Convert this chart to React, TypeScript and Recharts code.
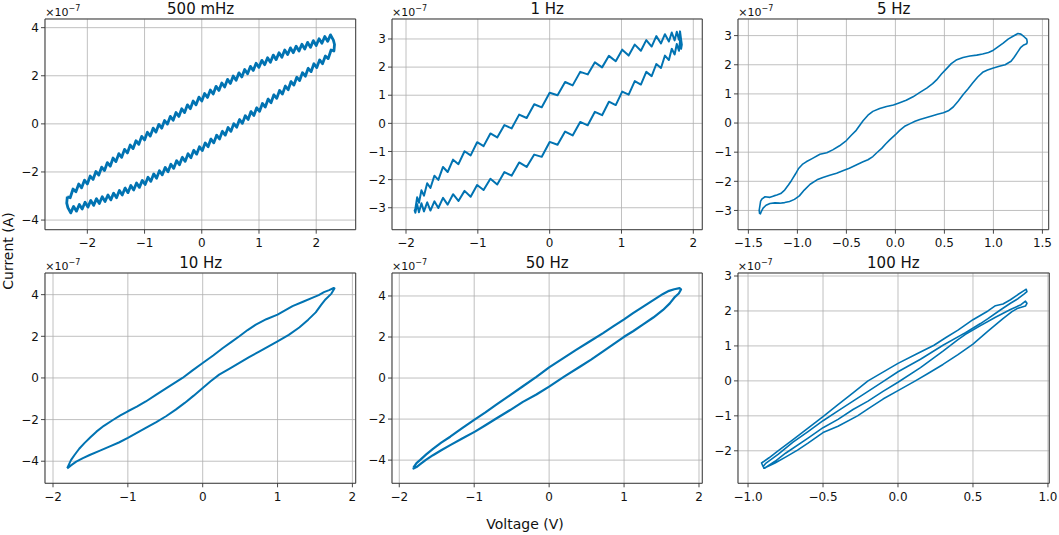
import React from 'react';
import { LineChart, Line, XAxis, YAxis, CartesianGrid, ReferenceArea } from 'recharts';

type Pt = [number, number];

// voltage (V), current (x1e-7 A)
const loop500mHz: Pt[] = [
  [-2.35, -3.03], [-2.3, -3.07], [-2.25, -2.71], [-2.2, -2.82], [-2.15, -2.5], [-2.1, -2.66],
  [-2.05, -2.34], [-2.0, -2.5], [-1.95, -2.17], [-1.9, -2.31], [-1.85, -1.98], [-1.8, -2.13],
  [-1.75, -1.8], [-1.7, -1.94], [-1.65, -1.61], [-1.6, -1.76], [-1.55, -1.42], [-1.5, -1.57],
  [-1.45, -1.24], [-1.4, -1.39], [-1.35, -1.06], [-1.3, -1.21], [-1.25, -0.88], [-1.2, -1.03],
  [-1.15, -0.7], [-1.1, -0.85], [-1.05, -0.52], [-1.0, -0.67], [-0.95, -0.35], [-0.9, -0.51],
  [-0.85, -0.18], [-0.8, -0.34], [-0.75, -0.02], [-0.7, -0.18], [-0.65, 0.14], [-0.6, -0.01],
  [-0.55, 0.31], [-0.5, 0.15], [-0.45, 0.47], [-0.4, 0.31], [-0.35, 0.63], [-0.3, 0.47],
  [-0.25, 0.79], [-0.2, 0.63], [-0.15, 0.95], [-0.1, 0.79], [-0.05, 1.11], [0.0, 0.95],
  [0.05, 1.26], [0.1, 1.1], [0.15, 1.41], [0.2, 1.24], [0.25, 1.56], [0.3, 1.39],
  [0.35, 1.7], [0.4, 1.53], [0.45, 1.85], [0.5, 1.68], [0.55, 1.99], [0.6, 1.81],
  [0.65, 2.12], [0.7, 1.95], [0.75, 2.26], [0.8, 2.08], [0.85, 2.39], [0.9, 2.22],
  [0.95, 2.52], [1.0, 2.35], [1.05, 2.64], [1.1, 2.46], [1.15, 2.75], [1.2, 2.56],
  [1.25, 2.86], [1.3, 2.67], [1.35, 2.96], [1.4, 2.77], [1.45, 3.07], [1.5, 2.88],
  [1.55, 3.16], [1.6, 2.96], [1.65, 3.23], [1.7, 3.03], [1.75, 3.31], [1.8, 3.11],
  [1.85, 3.39], [1.9, 3.18], [1.95, 3.46], [2.0, 3.26], [2.05, 3.54], [2.1, 3.35],
  [2.15, 3.63], [2.2, 3.43], [2.25, 3.7], [2.3, 3.48], [2.32, 3.3],
  [2.31, 3.03], [2.26, 3.07], [2.21, 2.71], [2.16, 2.82], [2.11, 2.5], [2.06, 2.66],
  [2.01, 2.34], [1.96, 2.5], [1.91, 2.17], [1.86, 2.31], [1.81, 1.98], [1.76, 2.13],
  [1.71, 1.8], [1.66, 1.94], [1.61, 1.61], [1.56, 1.76], [1.51, 1.42], [1.46, 1.57],
  [1.41, 1.24], [1.36, 1.39], [1.31, 1.06], [1.26, 1.21], [1.21, 0.88], [1.16, 1.03],
  [1.11, 0.7], [1.06, 0.85], [1.01, 0.52], [0.96, 0.67], [0.91, 0.35], [0.86, 0.51],
  [0.81, 0.18], [0.76, 0.34], [0.71, 0.02], [0.66, 0.18], [0.61, -0.14], [0.56, 0.01],
  [0.51, -0.31], [0.46, -0.15], [0.41, -0.47], [0.36, -0.31], [0.31, -0.63], [0.26, -0.47],
  [0.21, -0.79], [0.16, -0.63], [0.11, -0.95], [0.06, -0.79], [0.01, -1.11], [-0.04, -0.95],
  [-0.09, -1.26], [-0.14, -1.1], [-0.19, -1.41], [-0.24, -1.24], [-0.29, -1.56], [-0.34, -1.39],
  [-0.39, -1.7], [-0.44, -1.53], [-0.49, -1.85], [-0.54, -1.68], [-0.59, -1.99], [-0.64, -1.81],
  [-0.69, -2.12], [-0.74, -1.95], [-0.79, -2.26], [-0.84, -2.08], [-0.89, -2.39], [-0.94, -2.22],
  [-0.99, -2.52], [-1.04, -2.35], [-1.09, -2.64], [-1.14, -2.46], [-1.19, -2.75], [-1.24, -2.56],
  [-1.29, -2.86], [-1.34, -2.67], [-1.39, -2.96], [-1.44, -2.77], [-1.49, -3.07], [-1.54, -2.88],
  [-1.59, -3.16], [-1.64, -2.96], [-1.69, -3.23], [-1.74, -3.03], [-1.79, -3.31], [-1.84, -3.11],
  [-1.89, -3.39], [-1.94, -3.18], [-1.99, -3.46], [-2.04, -3.26], [-2.09, -3.54], [-2.14, -3.35],
  [-2.19, -3.63], [-2.24, -3.43], [-2.29, -3.7], [-2.34, -3.48], [-2.36, -3.3], [-2.35, -3.03],
];

const loop1Hz: Pt[] = [
  [-1.87, -3.04], [-1.845, -2.63], [-1.82, -2.82], [-1.785, -2.38], [-1.75, -2.57], [-1.705, -2.13],
  [-1.66, -2.3], [-1.605, -1.86], [-1.55, -2.01], [-1.485, -1.55], [-1.42, -1.73], [-1.345, -1.29],
  [-1.27, -1.45], [-1.185, -0.99], [-1.1, -1.14], [-1.01, -0.67], [-0.92, -0.81], [-0.825, -0.36],
  [-0.73, -0.5], [-0.63, -0.06], [-0.53, -0.18], [-0.425, 0.31], [-0.32, 0.19], [-0.215, 0.68],
  [-0.11, 0.57], [0.0, 1.09], [0.11, 1.0], [0.215, 1.47], [0.32, 1.35], [0.425, 1.83],
  [0.53, 1.74], [0.63, 2.17], [0.73, 1.99], [0.825, 2.4], [0.92, 2.21], [1.01, 2.62],
  [1.1, 2.41], [1.185, 2.8], [1.27, 2.58], [1.345, 2.96], [1.42, 2.73], [1.485, 3.1],
  [1.55, 2.84], [1.605, 3.17], [1.66, 2.91], [1.7, 3.23], [1.74, 2.95], [1.77, 3.26],
  [1.8, 2.97], [1.815, 3.27], [1.83, 2.98], [1.84, 2.8],
  [1.83, 2.65], [1.815, 2.92], [1.8, 2.58], [1.77, 2.82], [1.74, 2.45], [1.7, 2.65],
  [1.66, 2.25], [1.605, 2.41], [1.55, 1.97], [1.485, 2.11], [1.42, 1.68], [1.345, 1.83],
  [1.27, 1.38], [1.185, 1.5], [1.1, 1.02], [1.01, 1.13], [0.92, 0.65], [0.825, 0.77],
  [0.73, 0.29], [0.63, 0.41], [0.53, -0.07], [0.425, 0.05], [0.32, -0.43], [0.215, -0.29],
  [0.11, -0.76], [0.0, -0.66], [-0.11, -1.19], [-0.215, -1.11], [-0.32, -1.55], [-0.425, -1.39],
  [-0.53, -1.86], [-0.63, -1.73], [-0.73, -2.17], [-0.825, -1.97], [-0.92, -2.37], [-1.01, -2.19],
  [-1.1, -2.61], [-1.185, -2.4], [-1.27, -2.76], [-1.345, -2.52], [-1.42, -2.89], [-1.485, -2.65],
  [-1.55, -3.01], [-1.605, -2.77], [-1.66, -3.1], [-1.705, -2.81], [-1.75, -3.13], [-1.785, -2.84],
  [-1.82, -3.16], [-1.845, -2.87], [-1.87, -3.18], [-1.88, -3.1], [-1.87, -3.04],
];

const loop5Hz: Pt[] = [
  [-1.385, -3.12], [-1.39, -3.0], [-1.375, -2.68], [-1.36, -2.6], [-1.33, -2.53], [-1.28, -2.55],
  [-1.24, -2.5], [-1.21, -2.47], [-1.17, -2.42], [-1.13, -2.3], [-1.09, -2.12], [-1.06, -1.97],
  [-1.02, -1.75], [-0.99, -1.57], [-0.95, -1.42], [-0.91, -1.33], [-0.85, -1.22], [-0.77, -1.07],
  [-0.7, -1.02], [-0.64, -0.92], [-0.57, -0.78], [-0.5, -0.6], [-0.45, -0.42], [-0.4, -0.25],
  [-0.33, 0.08], [-0.28, 0.27], [-0.23, 0.4], [-0.16, 0.5], [-0.09, 0.57], [-0.02, 0.62],
  [0.044, 0.7], [0.11, 0.78], [0.18, 0.9], [0.25, 1.05], [0.32, 1.2], [0.38, 1.35],
  [0.42, 1.48], [0.47, 1.68], [0.52, 1.86], [0.57, 2.04], [0.62, 2.16], [0.69, 2.25],
  [0.76, 2.3], [0.83, 2.33], [0.89, 2.37], [0.95, 2.42], [1.0, 2.5], [1.05, 2.62],
  [1.1, 2.74], [1.15, 2.88], [1.2, 2.98], [1.25, 3.07], [1.28, 3.05], [1.31, 2.97],
  [1.34, 2.88], [1.345, 2.78], [1.34, 2.72],
  [1.31, 2.68], [1.28, 2.6], [1.25, 2.45], [1.21, 2.25], [1.18, 2.12], [1.12, 2.0],
  [1.06, 1.95], [1.0, 1.89], [0.94, 1.82], [0.89, 1.74], [0.84, 1.58], [0.79, 1.38],
  [0.74, 1.17], [0.69, 0.97], [0.64, 0.75], [0.59, 0.55], [0.54, 0.42], [0.49, 0.35],
  [0.43, 0.3], [0.38, 0.25], [0.31, 0.18], [0.25, 0.12], [0.2, 0.06], [0.15, -0.02],
  [0.1, -0.1], [0.044, -0.25], [0.0, -0.4], [-0.058, -0.58], [-0.1, -0.72], [-0.14, -0.87],
  [-0.19, -1.02], [-0.23, -1.15], [-0.28, -1.26], [-0.33, -1.33], [-0.4, -1.44], [-0.47, -1.55],
  [-0.53, -1.63], [-0.6, -1.72], [-0.67, -1.79], [-0.74, -1.87], [-0.8, -1.95], [-0.87, -2.1],
  [-0.93, -2.3], [-0.98, -2.5], [-1.03, -2.62], [-1.08, -2.69], [-1.13, -2.73], [-1.18, -2.75],
  [-1.23, -2.74], [-1.28, -2.76], [-1.32, -2.82], [-1.35, -2.92], [-1.37, -3.05], [-1.38, -3.14],
];

const loop10Hz: Pt[] = [
  [-1.81, -4.33], [-1.76, -3.95], [-1.71, -3.69], [-1.65, -3.4], [-1.58, -3.13], [-1.5, -2.85],
  [-1.42, -2.58], [-1.32, -2.3], [-1.2, -2.02], [-1.1, -1.8], [-1.0, -1.6], [-0.88, -1.38],
  [-0.76, -1.13], [-0.62, -0.8], [-0.49, -0.5], [-0.38, -0.25], [-0.27, 0.0], [-0.14, 0.35],
  [0.0, 0.72], [0.14, 1.08], [0.27, 1.44], [0.38, 1.72], [0.49, 2.0], [0.6, 2.3],
  [0.71, 2.56], [0.85, 2.82], [1.0, 3.04], [1.1, 3.24], [1.2, 3.45], [1.34, 3.66],
  [1.47, 3.86], [1.55, 3.98], [1.62, 4.12], [1.69, 4.22], [1.75, 4.32],
  [1.76, 4.3], [1.72, 4.05], [1.64, 3.77], [1.58, 3.5], [1.51, 3.15], [1.41, 2.8],
  [1.29, 2.42], [1.15, 2.07], [1.0, 1.76], [0.88, 1.52], [0.76, 1.28], [0.62, 1.0],
  [0.49, 0.72], [0.36, 0.45], [0.22, 0.16], [0.11, -0.15], [0.0, -0.48], [-0.12, -0.85],
  [-0.24, -1.2], [-0.36, -1.52], [-0.49, -1.84], [-0.62, -2.12], [-0.76, -2.4], [-0.88, -2.64],
  [-1.0, -2.88], [-1.12, -3.1], [-1.24, -3.29], [-1.38, -3.5], [-1.51, -3.7], [-1.6, -3.85],
  [-1.69, -4.02], [-1.76, -4.2], [-1.81, -4.35],
];

const loop50Hz: Pt[] = [
  [-1.81, -4.36], [-1.77, -4.15], [-1.72, -3.99], [-1.64, -3.72], [-1.55, -3.45], [-1.44, -3.15],
  [-1.32, -2.86], [-1.17, -2.47], [-1.01, -2.06], [-0.85, -1.67], [-0.7, -1.28], [-0.52, -0.83],
  [-0.35, -0.4], [-0.17, 0.06], [0.0, 0.52], [0.18, 0.95], [0.36, 1.37], [0.54, 1.78],
  [0.72, 2.19], [0.86, 2.53], [1.0, 2.86], [1.12, 3.16], [1.25, 3.47], [1.39, 3.8],
  [1.52, 4.1], [1.6, 4.25], [1.67, 4.33], [1.74, 4.38],
  [1.76, 4.32], [1.73, 4.12], [1.68, 3.96], [1.61, 3.64], [1.52, 3.32], [1.39, 2.95],
  [1.25, 2.6], [1.12, 2.28], [1.0, 2.01], [0.86, 1.65], [0.72, 1.3], [0.56, 0.9],
  [0.41, 0.55], [0.2, 0.07], [0.0, -0.42], [-0.17, -0.8], [-0.35, -1.16], [-0.52, -1.56],
  [-0.7, -1.96], [-0.85, -2.3], [-0.99, -2.61], [-1.16, -2.95], [-1.32, -3.27], [-1.44, -3.52],
  [-1.55, -3.76], [-1.64, -3.98], [-1.72, -4.2], [-1.77, -4.34], [-1.81, -4.41], [-1.81, -4.36],
];

const loop100Hz: Pt[] = [
  [-0.9, -2.45], [-0.91, -2.35], [-0.86, -2.2], [-0.8, -2.0], [-0.7, -1.68], [-0.6, -1.35],
  [-0.5, -1.02], [-0.4, -0.68], [-0.3, -0.34], [-0.2, 0.0], [-0.1, 0.25], [0.0, 0.5],
  [0.12, 0.76], [0.24, 1.02], [0.32, 1.24], [0.4, 1.45], [0.5, 1.75], [0.6, 2.0],
  [0.65, 2.15], [0.7, 2.2], [0.75, 2.32], [0.8, 2.47], [0.84, 2.58], [0.855, 2.62],
  [0.86, 2.55], [0.84, 2.48], [0.8, 2.35], [0.75, 2.22], [0.68, 2.02], [0.6, 1.78],
  [0.55, 1.64], [0.45, 1.38], [0.3, 1.02], [0.15, 0.62], [0.0, 0.26], [-0.1, -0.02],
  [-0.2, -0.3], [-0.3, -0.58], [-0.4, -0.86], [-0.5, -1.14], [-0.6, -1.45], [-0.7, -1.75],
  [-0.8, -2.1], [-0.88, -2.35], [-0.9, -2.45],
  [-0.89, -2.5], [-0.82, -2.3], [-0.75, -2.07], [-0.6, -1.64], [-0.5, -1.34], [-0.4, -1.1],
  [-0.3, -0.82], [-0.2, -0.58], [-0.1, -0.3], [0.0, -0.04], [0.15, 0.38], [0.3, 0.85],
  [0.4, 1.18], [0.45, 1.33], [0.55, 1.58], [0.65, 1.82], [0.75, 2.04], [0.82, 2.18],
  [0.85, 2.28], [0.86, 2.22],
  [0.85, 2.14], [0.8, 2.08], [0.76, 1.98], [0.7, 1.78], [0.6, 1.42], [0.5, 1.05],
  [0.4, 0.75], [0.3, 0.47], [0.2, 0.21], [0.116, 0.0], [0.0, -0.28], [-0.1, -0.52],
  [-0.2, -0.8], [-0.27, -1.0], [-0.4, -1.3], [-0.5, -1.48], [-0.6, -1.78], [-0.67, -1.98],
  [-0.75, -2.18], [-0.82, -2.35], [-0.88, -2.47], [-0.9, -2.5],
];

const titles = ['500 mHz', '1 Hz', '5 Hz', '10 Hz', '50 Hz', '100 Hz'];

const ticksV2 = [-2, -1, 0, 1, 2];
const ticksV15 = [-1.5, -1, -0.5, 0, 0.5, 1, 1.5];
const ticksV1 = [-1, -0.5, 0, 0.5, 1];
const ticksI4 = [-4, -2, 0, 2, 4];
const ticksI3 = [-3, -2, -1, 0, 1, 2, 3];
const ticksI3top = [-2, -1, 0, 1, 2, 3];

const BLUE = '#0173b2';
const FONT = 'DejaVu Sans, sans-serif';

const minus = (s: string) => s.replace('-', '\u2212');
const fmtInt = (v: number) => minus(String(v));
const fmtOne = (v: number) => minus(v.toFixed(1));

interface PanelSpec {
  title: string;
  loop: Pt[];
  xTicks: number[];
  yTicks: number[];
  xFmt: (v: number) => string;
  xDomain: [number, number];
  yDomain: [number, number];
  box: { left: number; top: number; width: number; height: number };
  lw: number;
}

const panels: PanelSpec[] = [
  { title: titles[0], loop: loop500mHz, xTicks: ticksV2, yTicks: ticksI4, xFmt: fmtInt,
    xDomain: [-2.74, 2.69], yDomain: [-4.4, 4.36], box: { left: 45.3, top: 19.3, width: 310.7, height: 210.7 }, lw: 2.8 },
  { title: titles[1], loop: loop1Hz, xTicks: ticksV2, yTicks: ticksI3, xFmt: fmtInt,
    xDomain: [-2.195, 2.125], yDomain: [-3.78, 3.71], box: { left: 392, top: 19.3, width: 310.3, height: 210.7 }, lw: 2 },
  { title: titles[2], loop: loop5Hz, xTicks: ticksV15, yTicks: ticksI3, xFmt: fmtOne,
    xDomain: [-1.606, 1.564], yDomain: [-3.66, 3.57], box: { left: 738.3, top: 19.3, width: 310.7, height: 210.7 }, lw: 1.6 },
  { title: titles[3], loop: loop10Hz, xTicks: ticksV2, yTicks: ticksI4, xFmt: fmtInt,
    xDomain: [-2.107, 2.044], yDomain: [-5.06, 5.04], box: { left: 45.3, top: 273, width: 310.7, height: 210.3 }, lw: 2 },
  { title: titles[4], loop: loop50Hz, xTicks: ticksV2, yTicks: ticksI4, xFmt: fmtInt,
    xDomain: [-2.097, 2.044], yDomain: [-5.13, 5.12], box: { left: 392, top: 273, width: 310.3, height: 210.3 }, lw: 2.2 },
  { title: titles[5], loop: loop100Hz, xTicks: ticksV1, yTicks: ticksI3top, xFmt: fmtOne,
    xDomain: [-1.067, 1.009], yDomain: [-2.93, 3.086], box: { left: 737.7, top: 273, width: 311.3, height: 210.3 }, lw: 1.6 },
];

const tickStyle = { fontSize: 12, fill: '#111', fontFamily: FONT };

const Panel: React.FC<{ p: PanelSpec }> = ({ p }) => {
  const rows = p.loop.map(([v, i]) => ({ v, i }));
  const { left, top, width, height } = p.box;
  return (
    <div style={{ position: 'absolute', left: left - 50, top: top - 30 }}>
      <LineChart width={width + 60} height={height + 70} data={rows}
        margin={{ top: 30, right: 10, left: 0, bottom: 0 }}>
        <CartesianGrid stroke="#b0b0b0" strokeWidth={0.8} />
        <XAxis dataKey="v" type="number" domain={p.xDomain} ticks={p.xTicks} allowDataOverflow
          interval={0} height={40} axisLine={false} tickSize={4} tickMargin={5}
          tickLine={{ stroke: '#333', strokeWidth: 0.9 }} tick={tickStyle} tickFormatter={p.xFmt} />
        <YAxis dataKey="i" type="number" domain={p.yDomain} ticks={p.yTicks} allowDataOverflow
          interval={0} width={50} axisLine={false} tickSize={4} tickMargin={2}
          tickLine={{ stroke: '#333', strokeWidth: 0.9 }} tick={tickStyle} tickFormatter={fmtInt} />
        <Line dataKey="i" type="linear" stroke={BLUE} strokeWidth={p.lw} dot={false}
          strokeLinejoin="round" isAnimationActive={false} />
        <ReferenceArea x1={p.xDomain[0]} x2={p.xDomain[1]} y1={p.yDomain[0]} y2={p.yDomain[1]}
          fill="none" stroke="#333" strokeWidth={0.9} ifOverflow="visible" />
      </LineChart>
    </div>
  );
};

const App: React.FC = () => {
  return (
    <div style={{ position: 'absolute', left: 0, top: 0, width: 1059, height: 535, background: '#fff', overflow: 'hidden' }}>
      {panels.map((p) => <Panel key={p.title} p={p} />)}
      <svg width={1059} height={535} style={{ position: 'absolute', left: 0, top: 0, pointerEvents: 'none' }}
        fontFamily={FONT} fill="#111">
        {panels.map((p) => (
          <g key={p.title}>
            <text x={p.box.left + p.box.width / 2} y={p.box.top - 5} fontSize={15} textAnchor="middle">{p.title}</text>
            <text x={p.box.left} y={p.box.top - 3} fontSize={11}>
              ×10<tspan fontSize={8} dy={-5}>{'\u22127'}</tspan>
            </text>
          </g>
        ))}
        <text x={525} y={529} fontSize={14} textAnchor="middle">Voltage (V)</text>
        <text x={12.5} y={251} fontSize={14} textAnchor="middle" transform="rotate(-90 12.5 251)">Current (A)</text>
      </svg>
    </div>
  );
};

export default App;
